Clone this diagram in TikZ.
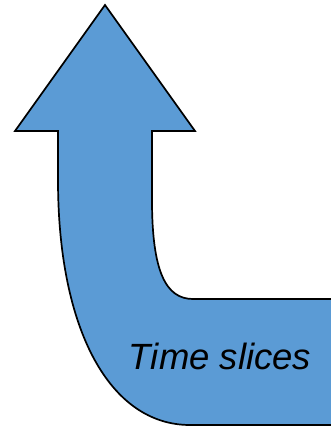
\documentclass[tikz,border=0pt]{standalone}
\usepackage{fontspec}
\setmainfont{Liberation Sans}
\definecolor{arrowblue}{HTML}{5B9BD5}
\begin{document}
\begin{tikzpicture}[x=1pt,y=-1pt,
  arrowshape/.style={fill=arrowblue,draw=black,line width=1.7pt,line join=miter},
  label/.style={font=\fontsize{36.5}{44}\selectfont\itshape,text=black,inner sep=0pt}]
\useasboundingbox (0,0) rectangle (331,428);
\clip (0,0) rectangle (331,428);
\draw[arrowshape] (105,5) -- (195,131) -- (152,131) -- (152,200)
  .. controls (152,272) and (166,299) .. (193,299) -- (345,299) -- (345,425)
  -- (190,425) .. controls (110,425) and (58,330) .. (58,180)
  -- (58,131) -- (15,131) -- cycle;
\node[label,anchor=base] (t) at (220,369) {Time slices};
\end{tikzpicture}
\end{document}
